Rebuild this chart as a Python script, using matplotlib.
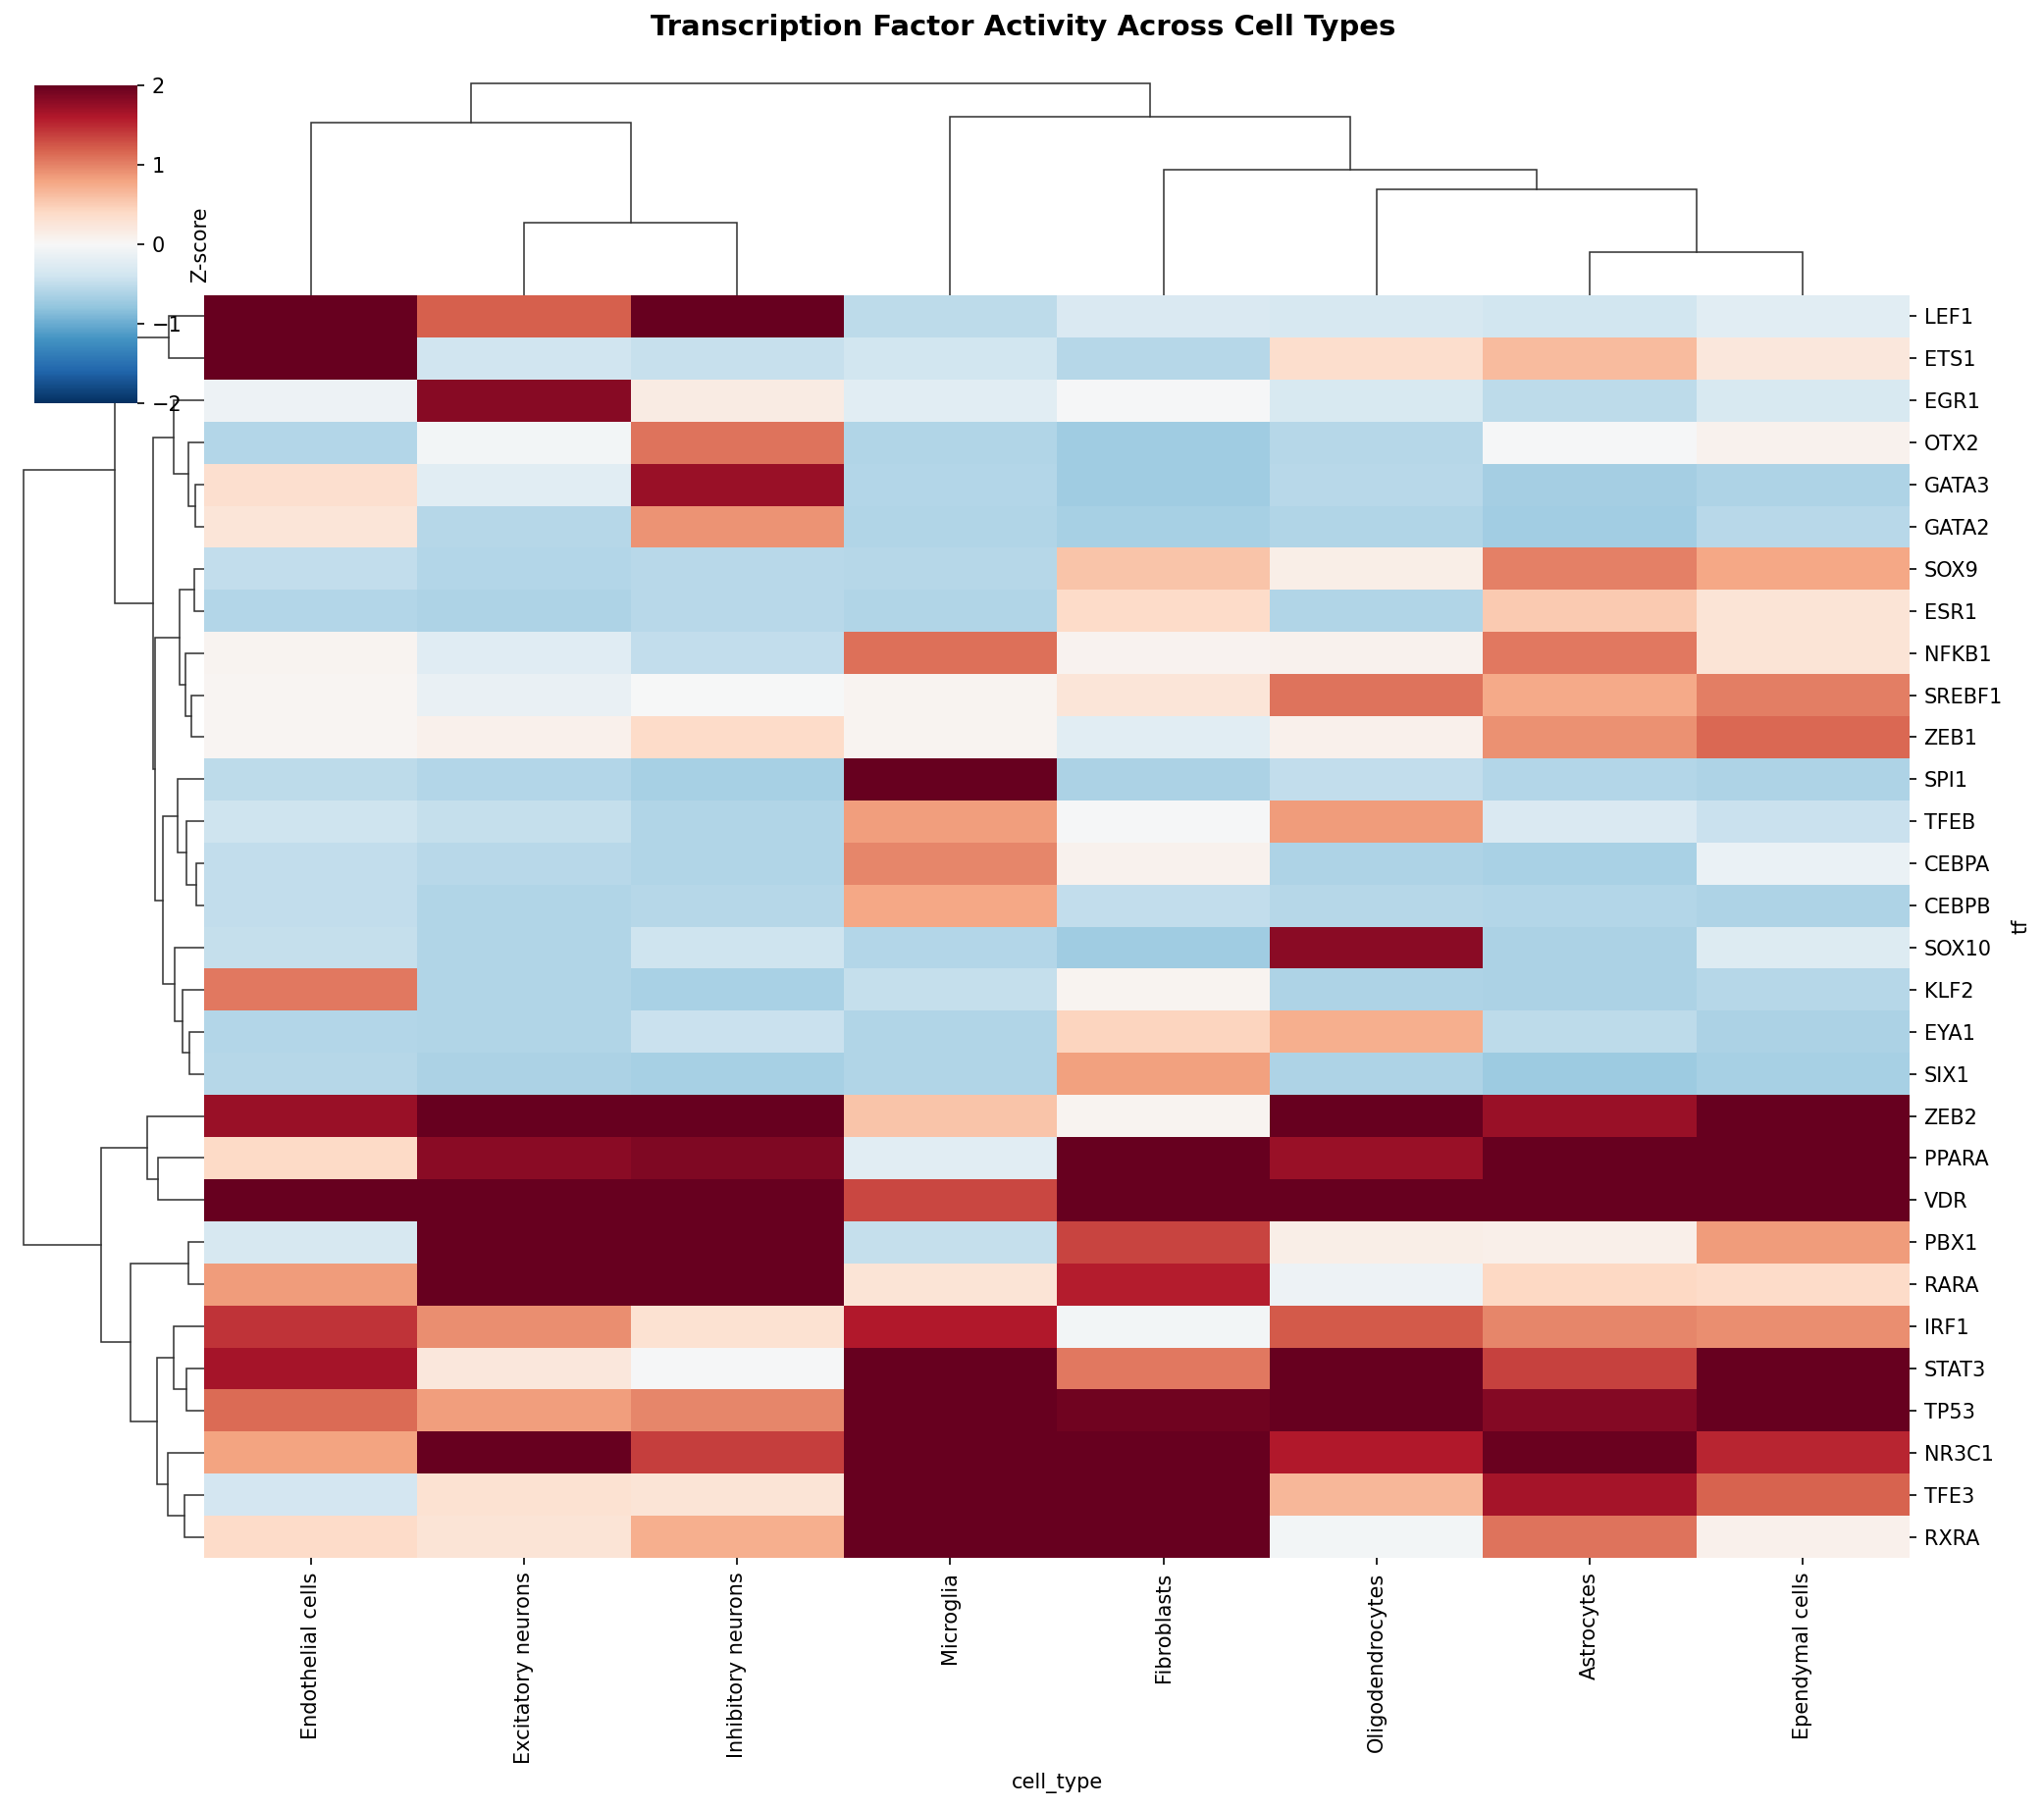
import numpy as np
import matplotlib
matplotlib.use("Agg")
import matplotlib.pyplot as plt

W, H = 2083, 1843
tfs = ["LEF1","ETS1","EGR1","OTX2","GATA3","GATA2","SOX9","ESR1","NFKB1","SREBF1","ZEB1","SPI1","TFEB","CEBPA","CEBPB",
       "SOX10","KLF2","EYA1","SIX1","ZEB2","PPARA","VDR","PBX1","RARA","IRF1","STAT3","TP53","NR3C1","TFE3","RXRA"]
cell_types = ["Endothelial cells","Excitatory neurons","Inhibitory neurons","Microglia","Fibroblasts",
              "Oligodendrocytes","Astrocytes","Ependymal cells"]

endothelial = [2.5,2.5,-.1,-.585,.33,.25,-.5,-.585,.05,.04,.04,-.52,-.42,-.5,-.5,-.47,1.05,-.585,-.57,1.72,.4,2.5,-.33,.85,1.45,1.66,1.13,.8,-.37,.38]
excitatory = [1.2,-.4,1.82,-.05,-.22,-.57,-.585,-.62,-.25,-.15,.1,-.585,-.48,-.55,-.6,-.605,-.6,-.6,-.64,2.5,1.81,2.5,2.5,2.5,.93,.23,.83,2.5,.3,.28]
inhibitory = [2.5,-.46,.17,1.08,1.72,.9,-.55,-.55,-.5,-.01,.38,-.67,-.6,-.6,-.565,-.42,-.655,-.45,-.67,2.5,1.87,2.5,2.5,2.5,.3,-.02,.97,1.38,.27,.73]
microglia = [-.52,-.39,-.22,-.6,-.585,-.605,-.57,-.605,1.1,.05,.05,2.5,.83,.97,.77,-.585,-.47,-.605,-.605,.57,-.22,1.33,-.47,.27,1.6,2.5,2.5,2.5,2.5,2.5]
fibroblasts = [-.3,-.565,-.03,-.71,-.71,-.67,.57,.38,.07,.25,-.22,-.635,-.02,.08,-.5,-.71,.05,.45,.82,.05,2.5,2.5,1.35,1.57,-.05,1.05,1.95,2.5,2.5,2.5]
oligodendrocytes = [-.33,.35,-.32,-.565,-.55,-.6,.13,-.605,.08,1.08,.1,-.5,.85,-.62,-.57,1.81,-.62,.72,-.62,2.5,1.72,2.5,.13,-.1,1.22,2.5,2.5,1.6,.67,-.06]
astrocytes = [-.38,.63,-.53,-.02,-.675,-.69,1.0,.52,1.05,.75,.92,-.585,-.3,-.655,-.585,-.635,-.635,-.53,-.73,1.72,2.5,2.5,.11,.42,.98,1.37,1.84,1.98,1.66,1.08]
ependymal = [-.22,.22,-.32,.08,-.625,-.56,.77,.27,.27,1.03,1.15,-.625,-.45,-.14,-.625,-.28,-.57,-.635,-.67,2.5,2.5,2.5,.85,.38,.93,2.5,2.5,1.52,1.18,.1]

# linkage tables: (child, child, height); child >= leaf count refers to an earlier merge
row_merges = [(0,1,36),(4,5,9),(3,31,16),(2,32,31),(6,7,10),(9,10,13),(8,35,19),(34,36,25),(13,14,8),(12,38,18),
              (11,39,27),(17,18,15),(16,41,22),(15,42,30),(40,43,42),(37,44,50),(33,45,52),(30,46,91),(20,21,47),
              (19,48,58),(22,23,16),(25,26,18),(24,51,31),(28,29,20),(27,53,37),(52,54,48),(50,55,75),(49,56,105),(47,57,184)]
col_merges = [(1,2,74),(0,8,176),(6,7,44),(5,10,108),(4,11,128),(3,12,182),(9,13,216)]

data = np.array([endothelial,excitatory,inhibitory,microglia,fibroblasts,oligodendrocytes,astrocytes,ependymal]).T


def tree_segments(merges, n):
    pos = {i: i + .5 for i in range(n)}
    hgt = {i: 0.0 for i in range(n)}
    segs = []
    for k, (a, b, h) in enumerate(merges):
        segs.append(((pos[a], hgt[a]), (pos[a], h), (pos[b], h), (pos[b], hgt[b])))
        pos[n + k] = (pos[a] + pos[b]) / 2
        hgt[n + k] = h
    return segs


def axbox(x0, y0, x1, y1):
    return [x0 / W, 1 - y1 / H, (x1 - x0) / W, (y1 - y0) / H]


fig = plt.figure(figsize=(W / 150, H / 150), dpi=150)
LEFT, TOP, RIGHT, BOTTOM = 208, 301, 1946, 1588

ax = fig.add_axes(axbox(LEFT, TOP, RIGHT, BOTTOM))
mesh = ax.pcolormesh(data, cmap="RdBu_r", vmin=-2, vmax=2)
ax.set_xlim(0, len(cell_types))
ax.set_ylim(len(tfs), 0)
ax.set_xticks(np.arange(len(cell_types)) + .5, cell_types, rotation=90)
ax.set_yticks(np.arange(len(tfs)) + .5, tfs, rotation=0)
ax.yaxis.tick_right()
ax.yaxis.set_label_position("right")
ax.set_xlabel("cell_type")
ax.set_ylabel("tf")
for s in ax.spines.values():
    s.set_visible(False)

rmax = max(m[2] for m in row_merges)
cmax = max(m[2] for m in col_merges)
row_ax = fig.add_axes(axbox(LEFT - rmax * 1.05, TOP, LEFT, BOTTOM))
col_ax = fig.add_axes(axbox(LEFT, TOP - cmax * 1.05, RIGHT, TOP))
for s in tree_segments(row_merges, len(tfs)):
    p = np.array(s)
    row_ax.plot(p[:, 1], p[:, 0], color=".2", lw=.75, solid_joinstyle="miter")
for s in tree_segments(col_merges, len(cell_types)):
    p = np.array(s)
    col_ax.plot(p[:, 0], p[:, 1], color=".2", lw=.75, solid_joinstyle="miter")
row_ax.set_xlim(rmax * 1.05, 0)
row_ax.set_ylim(len(tfs), 0)
col_ax.set_xlim(0, len(cell_types))
col_ax.set_ylim(0, cmax * 1.05)
for a in (row_ax, col_ax):
    a.set_axis_off()

cax = fig.add_axes(axbox(35, 87, 140, 411))
cax.set_zorder(5)
cb = fig.colorbar(mesh, cax=cax)
cb.set_ticks([-2, -1, 0, 1, 2])
cb.outline.set_visible(False)
cb.set_label("Z-score")

fig.text(1043 / W, 1 - 28 / H, "Transcription Factor Activity Across Cell Types",
         ha="center", va="center", fontsize=14, fontweight="bold")
fig.savefig("out.png", dpi=150)
